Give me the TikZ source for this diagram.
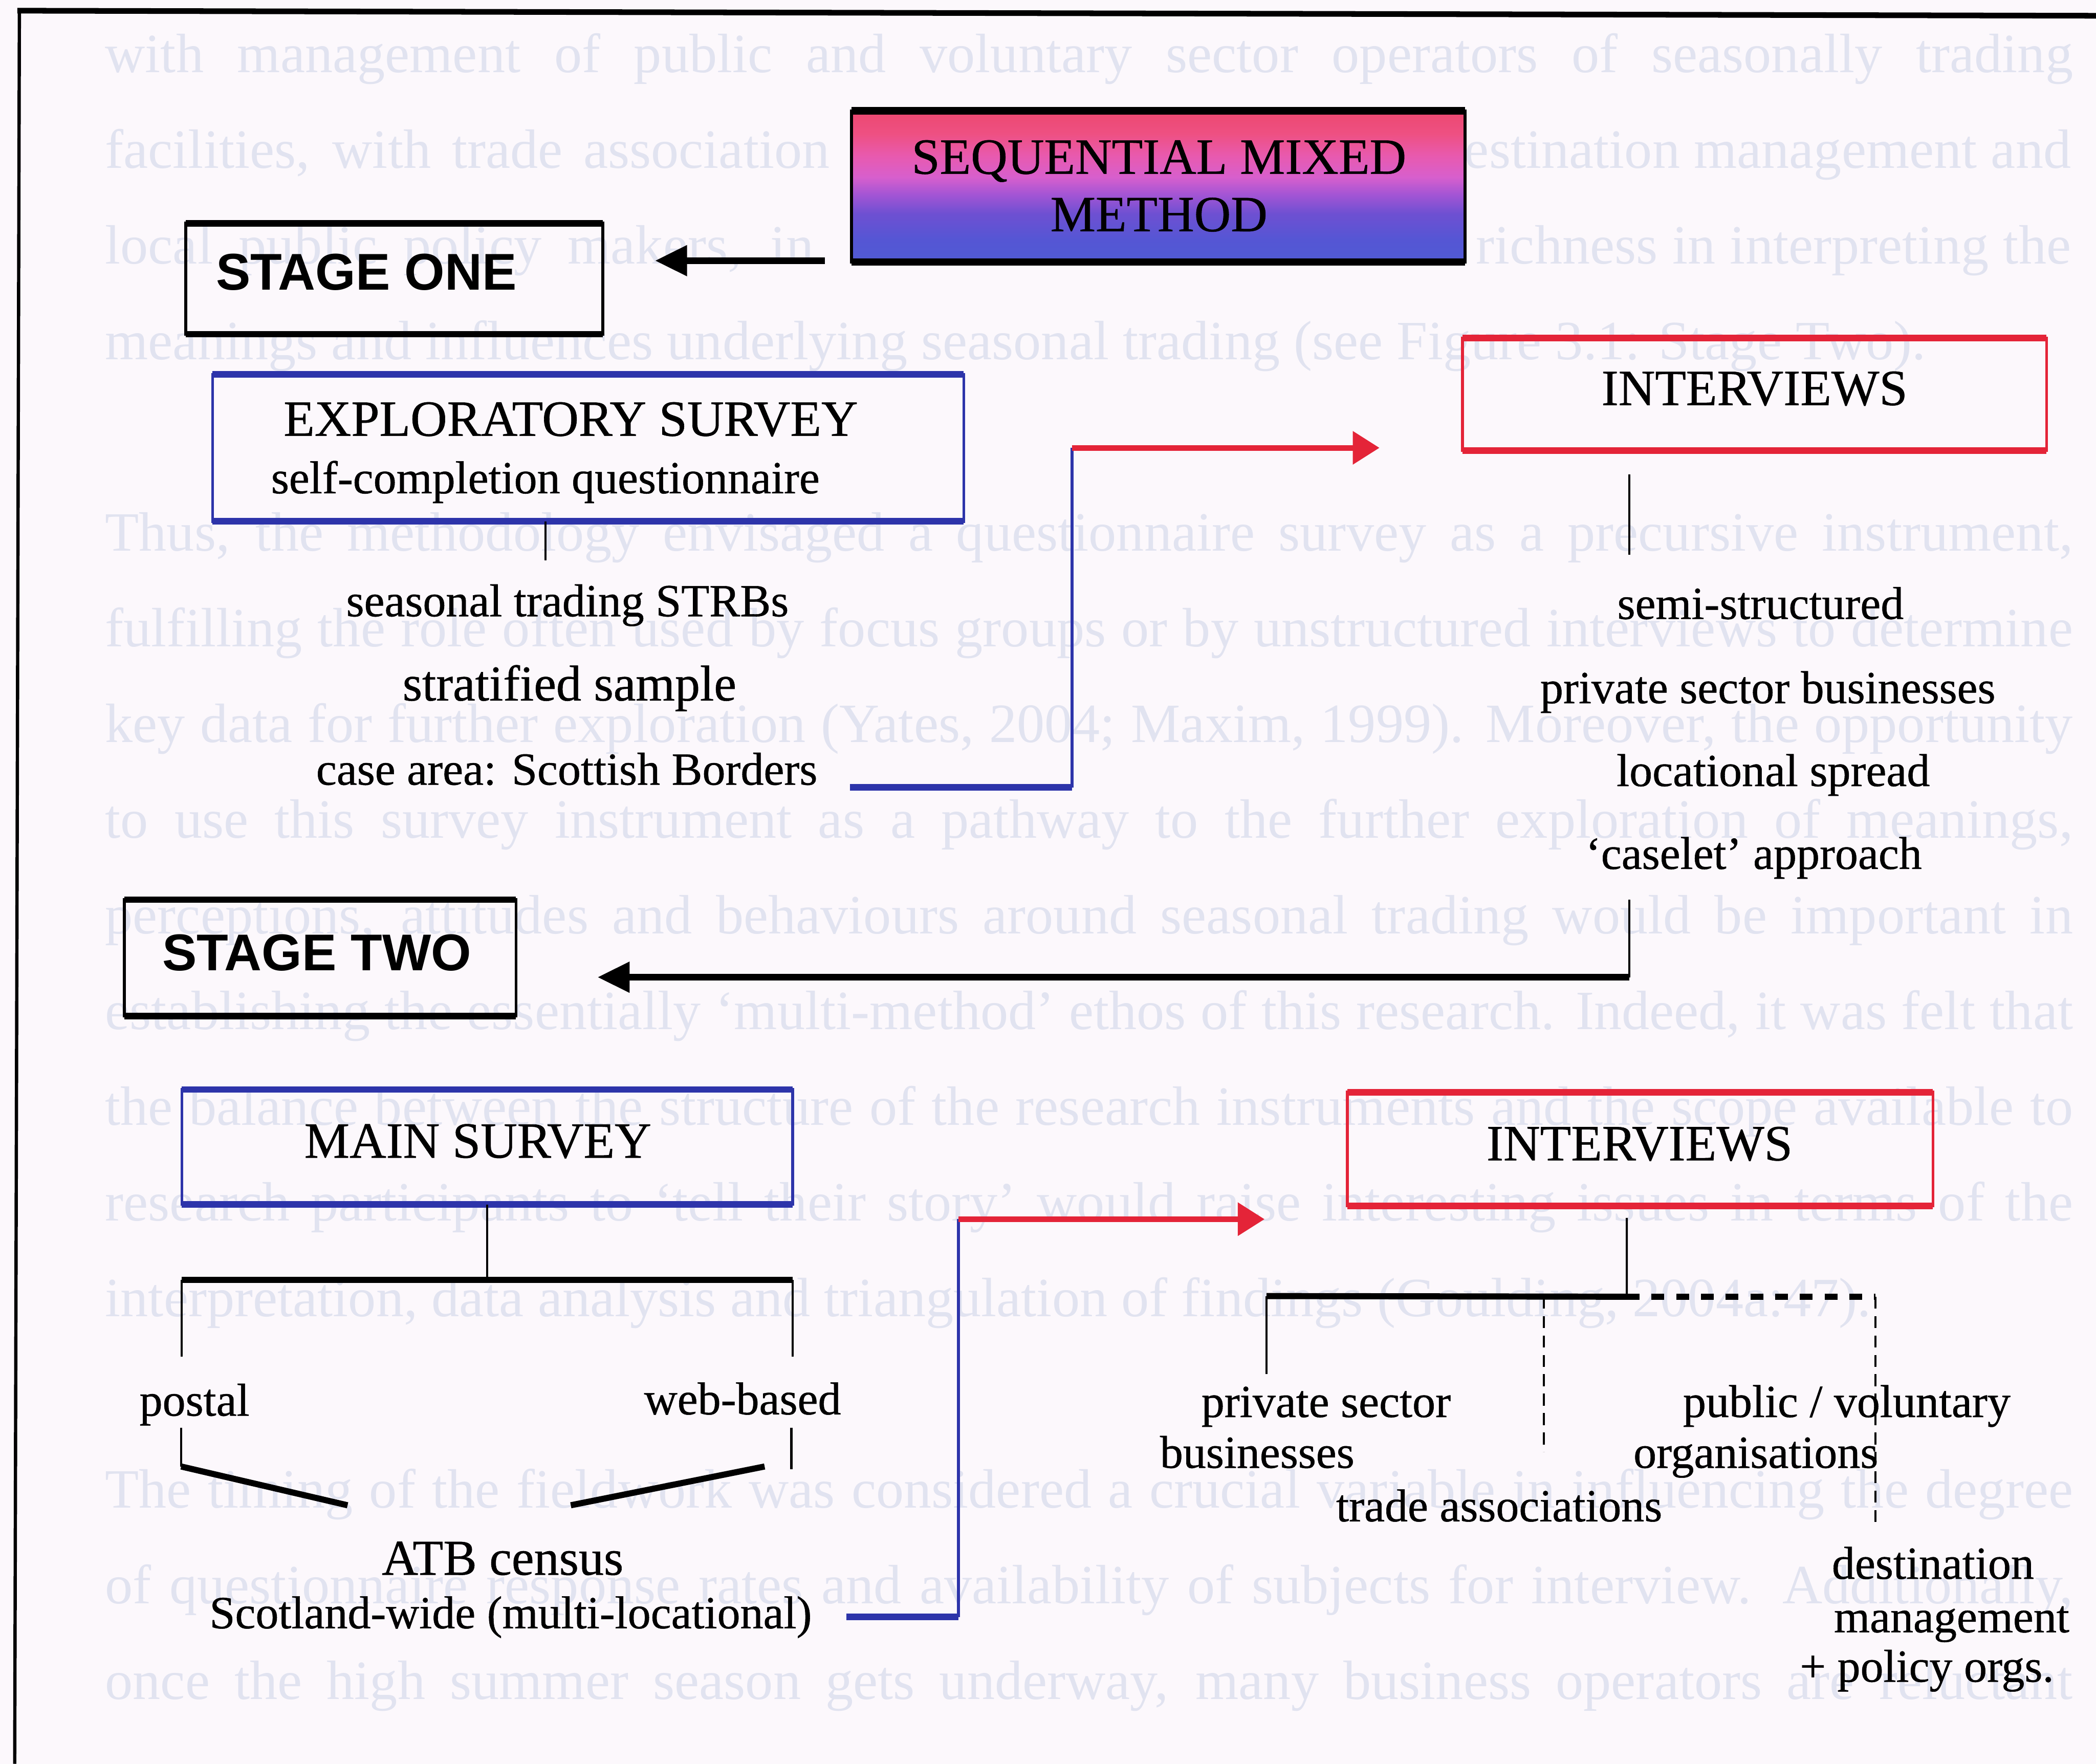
\documentclass[tikz,border=0pt]{standalone}
\usepackage{fontspec}
\setmainfont{Liberation Serif}
\newfontfamily\diagfont{Liberation Serif}[FakeBold=0.6]
\newfontfamily\stagefont{Liberation Sans}
\usetikzlibrary{arrows.meta}

\definecolor{pagebg}{RGB}{252,248,252}
\definecolor{ghost}{RGB}{225,227,240}
\definecolor{surveyblue}{RGB}{45,52,170}
\definecolor{interviewred}{RGB}{228,36,56}
% colours of the method banner, bottom to top
\definecolor{mbot}{RGB}{80,90,212}
\definecolor{mA}{RGB}{85,86,212}
\definecolor{mB}{RGB}{110,80,210}
\definecolor{mC}{RGB}{165,85,212}
\definecolor{mD}{RGB}{215,95,205}
\definecolor{mE}{RGB}{232,90,175}
\definecolor{mF}{RGB}{238,80,130}
\definecolor{mtop}{RGB}{236,72,112}
\pgfdeclareverticalshading{methodshade}{100bp}{color(0bp)=(mbot); color(25bp)=(mbot);
  color(32.5bp)=(mA); color(41bp)=(mB); color(47.5bp)=(mC); color(53bp)=(mD);
  color(60bp)=(mE); color(67.5bp)=(mF); color(75bp)=(mtop); color(100bp)=(mtop)}

% thick top and bottom rules of a box
\newcommand\boxedges[2]{\draw[edgebar,#2] (#1.north west) -- (#1.north east) (#1.south west) -- (#1.south east);}
% one justified line of the running text
\newcommand\ghostrow[3]{\node[ghosttext] (#1) at (0.78,#2) {\makebox[14.72cm][s]{#3}};}

\tikzset{
  boxframe/.style={rectangle, draw, line width=0.6pt, inner sep=0pt, outer sep=0pt},
  hdtext/.style={anchor=base, inner sep=0pt, font={\diagfont\fontsize{10.8}{13}\selectfont}},
  lbltext/.style={anchor=base, inner sep=0pt, font={\diagfont\fontsize{9.8}{12}\selectfont}},
  bigtext/.style={anchor=base, inner sep=0pt, font={\diagfont\fontsize{10.7}{13}\selectfont}},
  stgtext/.style={anchor=base, inner sep=0pt, font={\stagefont\bfseries\fontsize{11}{13}\selectfont}},
  ghosttext/.style={anchor=base west, inner sep=0pt, text=ghost, font={\fontsize{11.8}{14}\selectfont}},
  ghostright/.style={ghosttext, anchor=base east},
  edgebar/.style={line width=1.4pt},
  thinrule/.style={line width=0.45pt},
  thickrule/.style={line width=1.3pt},
  blackarrow/.style={line width=1.4pt, -{Triangle[length=2.4mm,width=2.2mm]}},
  redarrow/.style={interviewred, line width=1.2pt, -{Triangle[length=2mm,width=2.4mm]}},
  bluethick/.style={surveyblue, line width=1.4pt},
  bluethin/.style={surveyblue, line width=0.6pt},
  dashthick/.style={line width=1.3pt, dash pattern=on 0.95mm off 0.9mm},
  dashthin/.style={line width=0.5pt, dash pattern=on 0.9mm off 0.55mm},
}

\begin{document}
\begin{tikzpicture}
\useasboundingbox (0,0) rectangle (15.68,-13.194);
\fill[pagebg] (0,0) rectangle (15.68,-13.194);

% running text of the page behind the figure
\ghostrow{g0}{-0.54}{with management of public and voluntary sector operators of seasonally trading}
\node[ghosttext] (g1a) at (0.78,-1.256) {\makebox[5.42cm][s]{facilities, with trade association}};
\node[ghostright] (g1b) at (15.50,-1.256) {destination management and};
\node[ghosttext] (g2a) at (0.78,-1.972) {\makebox[5.30cm][s]{local public policy makers, in}};
\node[ghostright] (g2b) at (15.50,-1.972) {\makebox[4.45cm][s]{richness in interpreting the}};
\node[ghosttext] (g3) at (0.78,-2.688) {meanings and influences underlying seasonal trading (see Figure 3.1: Stage Two).};
\ghostrow{g5}{-4.12}{Thus, the methodology envisaged a questionnaire survey as a precursive instrument,}
\ghostrow{g6}{-4.836}{fulfilling the role often used by focus groups or by unstructured interviews to determine}
\ghostrow{g7}{-5.552}{key data for further exploration (Yates, 2004; Maxim, 1999). Moreover, the opportunity}
\ghostrow{g8}{-6.268}{to use this survey instrument as a pathway to the further exploration of meanings,}
\ghostrow{g9}{-6.984}{perceptions, attitudes and behaviours around seasonal trading would be important in}
\ghostrow{g10}{-7.70}{establishing the essentially ‘multi-method’ ethos of this research. Indeed, it was felt that}
\ghostrow{g11}{-8.416}{the balance between the structure of the research instruments and the scope available to}
\ghostrow{g12}{-9.132}{research participants to ‘tell their story’ would raise interesting issues in terms of the}
\node[ghosttext] (g13) at (0.78,-9.848) {interpretation, data analysis and triangulation of findings (Goulding, 2004a:47).};
\ghostrow{g15}{-11.28}{The timing of the fieldwork was considered a crucial variable in influencing the degree}
\ghostrow{g16}{-11.996}{of questionnaire response rates and availability of subjects for interview. Additionally,}
\ghostrow{g17}{-12.712}{once the high summer season gets underway, many business operators are reluctant}

% page frame
\draw[line width=1.2pt] (0.13,-0.08) -- (15.68,-0.118);
\draw[line width=0.7pt] (0.145,-0.08) -- (0.11,-13.194);

% boxes
\node[boxframe, shading=methodshade, line width=0.7pt, minimum width=4.59cm, minimum height=1.13cm] (method) at (8.665,-1.395) {};
\draw[line width=1.6pt] (method.north west) -- (method.north east) (method.south west) -- (method.south east);
\node[boxframe, minimum width=3.12cm, minimum height=0.83cm] (stageone) at (2.95,-2.085) {};
\boxedges{stageone}{black}
\node[boxframe, draw=surveyblue, minimum width=5.62cm, minimum height=1.10cm] (explor) at (4.40,-3.35) {};
\boxedges{explor}{surveyblue}
\node[boxframe, draw=interviewred, minimum width=4.37cm, minimum height=0.84cm] (intone) at (13.125,-2.95) {};
\boxedges{intone}{interviewred}
\node[boxframe, minimum width=2.93cm, minimum height=0.87cm] (stagetwo) at (2.395,-7.165) {};
\boxedges{stagetwo}{black}
\node[boxframe, draw=surveyblue, minimum width=4.57cm, minimum height=0.86cm] (mainsurv) at (3.645,-8.58) {};
\boxedges{mainsurv}{surveyblue}
\node[boxframe, draw=interviewred, minimum width=4.38cm, minimum height=0.85cm] (inttwo) at (12.27,-8.595) {};
\boxedges{inttwo}{interviewred}

% box texts
\node[hdtext] (tmethodA) at (8.67,-1.30) {SEQUENTIAL MIXED};
\node[hdtext] (tmethodB) at (8.67,-1.73) {METHOD};
\node[stgtext] (tstageone) at (2.74,-2.17) {STAGE ONE};
\node[hdtext] (texplor) at (4.27,-3.26) {EXPLORATORY SURVEY};
\node[lbltext] (tself) at (4.08,-3.69) {self-completion questionnaire};
\node[hdtext] (tintone) at (13.125,-3.03) {INTERVIEWS};
\node[stgtext] (tstagetwo) at (2.37,-7.26) {STAGE TWO};
\node[hdtext] (tmain) at (3.575,-8.66) {MAIN SURVEY};
\node[hdtext] (tinttwo) at (12.265,-8.68) {INTERVIEWS};

% stage one labels
\node[lbltext] (tseason) at (4.245,-4.61) {seasonal trading STRBs};
\node[bigtext] (tstrat) at (4.26,-5.24) {stratified sample};
\node[lbltext] (tcase) at (4.24,-5.87) {case area: Scottish Borders};
\node[lbltext] (tsemi) at (13.17,-4.63) {semi-structured};
\node[lbltext] (tpriv) at (13.225,-5.26) {private sector businesses};
\node[lbltext] (tloc) at (13.265,-5.88) {locational spread};
\node[lbltext] (tcaselet) at (13.12,-6.50) {‘caselet’ approach};

% stage two labels
\node[lbltext] (tpostal) at (1.455,-10.59) {postal};
\node[lbltext] (tweb) at (5.555,-10.58) {web-based};
\node[bigtext] (tatb) at (3.76,-11.78) {ATB census};
\node[lbltext] (tscot) at (3.82,-12.18) {Scotland-wide (multi-locational)};
\node[lbltext] (tprivs) at (9.92,-10.60) {private sector};
\node[lbltext] (tbus) at (9.405,-10.98) {businesses};
\node[lbltext] (tpub) at (13.815,-10.60) {public / voluntary};
\node[lbltext] (torg) at (13.135,-10.98) {organisations};
\node[lbltext] (ttrade) at (11.215,-11.38) {trade associations};
\node[lbltext] (tdest) at (14.46,-11.81) {destination};
\node[lbltext] (tmgmt) at (14.60,-12.21) {management};
\node[lbltext] (tpolicy) at (14.415,-12.58) {+ policy orgs.};

% method -> stage one
\coordinate (arrA) at ([xshift=-2mm,yshift=0.1mm]method.south west);
\coordinate (tipA) at ([xshift=3.9mm]stageone.east);
\draw[blackarrow] (arrA) -- (arrA -| tipA);

% exploratory survey stem
\draw[thinrule] ([xshift=-3.2mm]explor.south) -- ++(0,-0.29);

% survey -> interviews (stage one)
\coordinate (startB) at (6.36,-5.89);
\coordinate (bendB) at (8.02,-5.89);
\coordinate (tipB) at ([xshift=-6.2mm,yshift=0.2mm]intone.south west);
\draw[bluethick] (startB) -- (bendB);
\draw[bluethin] (bendB) -- (bendB |- tipB);
\draw[redarrow] (bendB |- tipB) -- (tipB);

% interviews stem and return arrow to stage two
\draw[thinrule] ([xshift=12.5mm,yshift=-1.8mm]intone.south west) -- ++(0,-0.6);
\coordinate (cornerC) at (12.19,-7.31);
\coordinate (tipC) at ([xshift=6.1mm,yshift=-1.45mm]stagetwo.east);
\draw[thinrule] (12.19,-6.73) -- (cornerC);
\draw[blackarrow] (cornerC) -- (cornerC -| tipC);

% main survey tree
\coordinate (barM) at (3.645,-9.575);
\draw[thinrule] (mainsurv.south) -- (barM);
\draw[thickrule] (1.36,-9.575) -- (5.93,-9.575);
\draw[thinrule] (1.36,-9.575) -- (1.36,-10.15);
\draw[thinrule] (5.93,-9.575) -- (5.93,-10.15);
\draw[thinrule] (1.355,-10.68) -- (1.355,-10.97);
\draw[thickrule] (1.355,-10.97) -- (2.60,-11.26);
\draw[thinrule] (5.92,-10.68) -- (5.92,-10.99);
\draw[thickrule] (5.72,-10.97) -- (4.27,-11.26);

% main survey -> interviews (stage two)
\coordinate (startD) at (6.33,-12.095);
\coordinate (bendD) at (7.17,-12.095);
\coordinate (tipD) at ([xshift=-6.2mm,yshift=-1mm]inttwo.south west);
\draw[bluethick] (startD) -- (bendD);
\draw[bluethin] (bendD) -- (bendD |- tipD);
\draw[redarrow] (bendD |- tipD) -- (tipD);

% interviews tree
\coordinate (forkE) at (12.17,-9.70);
\draw[thinrule] ([xshift=-1mm,yshift=-0.9mm]inttwo.south) -- (forkE);
\draw[thickrule] (9.475,-9.695) -- (forkE);
\draw[dashthick] (forkE) -- (14.03,-9.70);
\draw[thinrule] (9.475,-9.695) -- (9.475,-10.28);
\draw[dashthin] (11.55,-9.70) -- (11.55,-10.86);
\draw[dashthin] (14.03,-9.70) -- (14.03,-11.40);
\end{tikzpicture}
\end{document}
